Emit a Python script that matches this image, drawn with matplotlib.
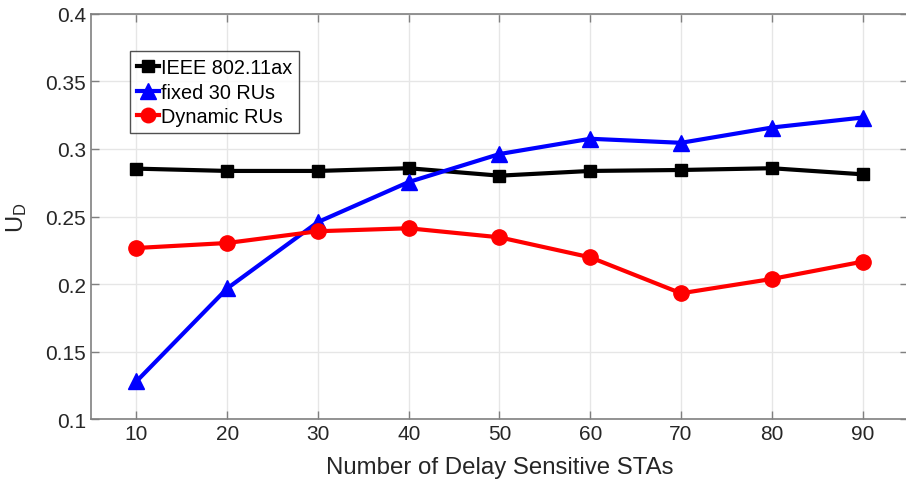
import matplotlib
matplotlib.use("Agg")
import matplotlib.pyplot as plt

plt.rcParams['font.family'] = ['Liberation Sans', 'DejaVu Sans']
plt.rcParams['mathtext.default'] = 'regular'

x = [10, 20, 30, 40, 50, 60, 70, 80, 90]
ieee = [0.2854, 0.2837, 0.2837, 0.2857, 0.2802, 0.2837, 0.2844, 0.2857, 0.2812]
fixed30 = [0.128, 0.1968, 0.2459, 0.2755, 0.2962, 0.3075, 0.3045, 0.3158, 0.3232]
dynamic = [0.2267, 0.2304, 0.2391, 0.2413, 0.2346, 0.2198, 0.1932, 0.2038, 0.2166]
labels = ['IEEE 802.11ax', 'fixed 30 RUs', 'Dynamic RUs']
xticks = [10, 20, 30, 40, 50, 60, 70, 80, 90]
yticks = [0.1, 0.15, 0.2, 0.25, 0.3, 0.35, 0.4]

fig = plt.figure(figsize=(9.06, 4.85), dpi=100)
ax = fig.add_axes([91/906, 1-420.3/485, (908-91)/906, (420.3-14.7)/485])

ax.plot(x, ieee, color='black', lw=3, marker='s', ms=9, label=labels[0])
ax.plot(x, fixed30, color='blue', lw=3, marker='^', ms=12, label=labels[1])
ax.plot(x, dynamic, color='red', lw=3, marker='o', ms=11, label=labels[2])

ax.set_xlim(5, 95)
ax.set_ylim(0.1, 0.4)
ax.set_xticks(xticks)
ax.set_yticks(yticks)
ax.set_yticklabels(['0.1', '0.15', '0.2', '0.25', '0.3', '0.35', '0.4'])
ax.grid(True, color='#e6e6e6', lw=1)
ax.set_axisbelow(True)
ax.tick_params(direction='in', length=6, width=1, colors='#808080',
               labelcolor='#262626', labelsize=15, top=True, right=True)
for s in ax.spines.values():
    s.set_color('#808080')
    s.set_linewidth(1.2)
ax.spines['right'].set_visible(False)

ax.set_xlabel('Number of Delay Sensitive STAs', fontsize=17.3, color='#262626', labelpad=9)
ax.set_ylabel('U$_D$', fontsize=17, color='#262626', labelpad=12)

leg = ax.legend(loc='upper left', bbox_to_anchor=((130-91)/817, 1-(52-14.7)/405.6),
                fontsize=14.3, frameon=True, fancybox=False, edgecolor='#262626',
                handlelength=1.1, handletextpad=0.1, borderpad=0.35, labelspacing=0.28,
                borderaxespad=0, markerscale=0.95)
leg.get_frame().set_linewidth(1.0)

fig.savefig('out.png', dpi=100)
